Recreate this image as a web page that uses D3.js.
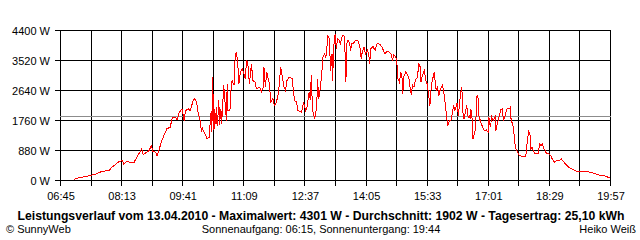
<!DOCTYPE html>
<html><head><meta charset="utf-8">
<script src="https://cdn.jsdelivr.net/npm/d3@7"></script>
<style>
html,body{margin:0;padding:0;background:#fff;}
svg{display:block;}
text{font-family:"Liberation Sans",Arial,sans-serif;fill:#000;}
</style></head>
<body>
<svg id="chart" width="640" height="240"></svg>
<script>
// time of day in minutes since midnight
const times = [
 424,431,443,455,465,475,479,489,494,496, 501,506,511,515,522,524,527,532,536,538,
 542,544,547,550,554,558,563,566,571,573, 576,580,583,585,589,592,596,598,
 601,603,606,608,609,611,614,616,619,620, 622,623,624,626,627,629,630,631,633,634,
 636,637,639,640,644,645,646,649,650,652, 655,656,658,660,662,664,667,669,671,673,
 675,677,680,682,685,687,691,693,694,697, 698,700,702,704,706,707,708,711,713,716,
 719,722,724,727,729,731,734,739,740,742, 745,747,752,755,758,760,763,765,766,768,
 771,774,775,777,779,782,
 783,785,787,788,790,792,793,794,796,797, 798,800,801,802,804,806,808,810,812,814,
 816,817,819,821,823,824,826,830,833,836, 838,839,842,844,847,849,850,852,855,858,
 861,865,868,872,875,878,881,883,885,887, 889,891,893,895,897,898,899,902,904,907,
 908,910,912,914,916,919,921,923,924,926, 929,931,933,935,937,939,941,943,945,946,
 948,950,952,955,957,959,961,963,965,968, 969,971,973,976,978,
 981,983,984,986,988,990,992,994,995,996, 998,999,1002,1003,1004,1006,1008,1009,1011,1013,
 1015,1018,1021,1022,1024,1026,1028,1031,1032,1034, 1036,1039,1041,1043,1046,1048,1051,1053,1054,1056,
 1058,1059,1061,1063,1066,1069,1071,1075,1076,1078, 1079,1081,1082,1084,1086,1088,1091,1093,1095,1097,
 1099,1101,1103,1105,1108,1111,1113,1116,1119,1123, 1126,1130,1134,1137,1141,1145,1149,1154,1163,1168,
 1173,1178,1183,1187,1193,1196
];
// power in W
const watts = [
 30,80,125,185,270,290,390,550,590,490, 565,520,535,685,930,750,800,860,1020,850,
 830,730,900,1125,1320,1515,1565,1840,1840,1780, 2000,2100,1760,2050,2100,2050,2350,2400,
 2300,2000,1760,1420,1565,1440,1320,1220,1270,1565, 2050,1420,3030,1470,2100,1650,2150,1600,2350,1620,
 2100,1650,2380,2790,1760,2835,2050,2050,2540,2930, 2790,3470,3765,3520,2835,3175,3275,3130,2980,3540,
 3375,2835,3420,2930,2885,2690,2735,2690,2590,2735, 3325,2735,3175,2980,2835,2490,2300,2405,2200,2300,
 2590,3325,3080,2735,2640,2930,3030,2980,2690,2350, 2300,2050,2000,2300,2050,2150,2590,2350,3080,2050,
 1810,2150,2980,2400,2690,3325,
 3615,3715,3615,3765,4255,4155,3715,3225,3715,2930, 3810,4255,4301,3865,4155,4135,4010,4205,4255,4225,
 2885,4010,4105,4055,3815,4010,4010,4105,4105,3960, 3570,3715,3910,3715,3815,3715,3420,3865,3930,3815,
 4030,3990,3910,3715,3790,3765,3715,3520,3695,3640, 3570,2980,2885,3175,2980,2540,3030,3175,3130,2980,
 2790,2520,2790,2735,2955,3030,3440,3325,2885,3080, 3225,2930,2835,2540,2200,2790,2980,3175,2835,2640,
 2735,2490,2690,2790,2590,2250,1855,1615,1760,1780, 1955,2200,2050,2265,1905,
 2540,2735,2050,1810,2000,2200,1855,1905,1810,2100, 1760,1220,1465,1565,2445,2490,1760,1810,1665,1565,
 1465,1485,1420,1855,1565,1855,1760,1875,1465,1665, 1810,2075,2105,1760,1955,2105,2105,2150,1710,1710,
 1370,1125,930,830,735,705,705,715,930,1270, 1445,1370,930,975,860,780,810,800,1075,1025,
 1075,930,880,780,780,735,635,535,585,585, 635,535,440,390,345,295,265,265,265,235,
 215,175,145,145,100,80
];
const averageW = 1902;
const yTicks = [0, 880, 1760, 2640, 3520, 4400];
const xGrid = [405,449,493,537,581,625,669,713,757,801,845,889,933,977,1021,1065,1109,1153,1197];
const xTickLabels = ["06:45","","08:13","","09:41","","11:09","","12:37","","14:05","","15:33","","17:01","","18:29","","19:57"];
const titleText = "Leistungsverlauf vom 13.04.2010 - Maximalwert: 4301 W - Durchschnitt: 1902 W - Tagesertrag: 25,10 kWh";
const footLeft = "© SunnyWeb";
const footMid = "Sonnenaufgang: 06:15, Sonnenuntergang: 19:44";
const footRight = "Heiko Weiß";

const svg = d3.select("#chart");
const x = d3.scaleLinear().domain([405, 1197]).range([60.5, 610.5]);
const y = d3.scaleLinear().domain([0, 4400]).range([180.5, 30.5]);

// horizontal grid lines (with left tick stubs)
svg.append("g").selectAll("line").data(yTicks).join("line")
  .attr("x1", 55).attr("x2", 611).attr("y1", d => y(d)).attr("y2", d => y(d))
  .attr("stroke", "#000").attr("shape-rendering", "crispEdges");
// vertical grid lines (with bottom tick stubs)
svg.append("g").selectAll("line").data(xGrid).join("line")
  .attr("x1", d => x(d)).attr("x2", d => x(d)).attr("y1", 30).attr("y2", 186)
  .attr("stroke", "#000").attr("shape-rendering", "crispEdges");

// average line
svg.append("line").attr("x1", 60).attr("x2", 611)
  .attr("y1", Math.round(y(averageW)) + 0.5).attr("y2", Math.round(y(averageW)) + 0.5)
  .attr("stroke", "#8c8c8c").attr("shape-rendering", "crispEdges");

// axes labels
const yAxis = d3.axisLeft(y).tickValues(yTicks).tickSize(0).tickPadding(10)
  .tickFormat(d => d + " W");
const gy = svg.append("g").attr("transform", "translate(60,0)").call(yAxis);
gy.select(".domain").remove();
gy.selectAll("text").style("font-size", "11px").attr("fill", "#000");

const xAxis = d3.axisBottom(x).tickValues(xGrid).tickSize(0).tickPadding(11)
  .tickFormat((d, i) => xTickLabels[i]);
const gx = svg.append("g").attr("transform", "translate(0,181)").call(xAxis);
gx.select(".domain").remove();
gx.selectAll("text").style("font-size", "11px").attr("fill", "#000");

// data line
const data = times.map((t, i) => ({ t, w: watts[i] }));
svg.append("path").datum(data)
  .attr("fill", "none").attr("stroke", "#ff0000").attr("stroke-width", 1)
  .attr("shape-rendering", "crispEdges")
  .attr("d", d3.line().x(d => x(d.t)).y(d => y(d.w)));

// titles
svg.append("text").attr("x", 321).attr("y", 220).attr("text-anchor", "middle")
  .style("font-size", "12px").style("font-weight", "bold")
  .attr("textLength", 607).attr("lengthAdjust", "spacingAndGlyphs").text(titleText);
svg.append("text").attr("x", 6).attr("y", 233).style("font-size", "11px").text(footLeft);
svg.append("text").attr("x", 321).attr("y", 233).attr("text-anchor", "middle")
  .style("font-size", "11px").text(footMid);
svg.append("text").attr("x", 636).attr("y", 233).attr("text-anchor", "end")
  .style("font-size", "11px").text(footRight);
</script>
</body></html>
